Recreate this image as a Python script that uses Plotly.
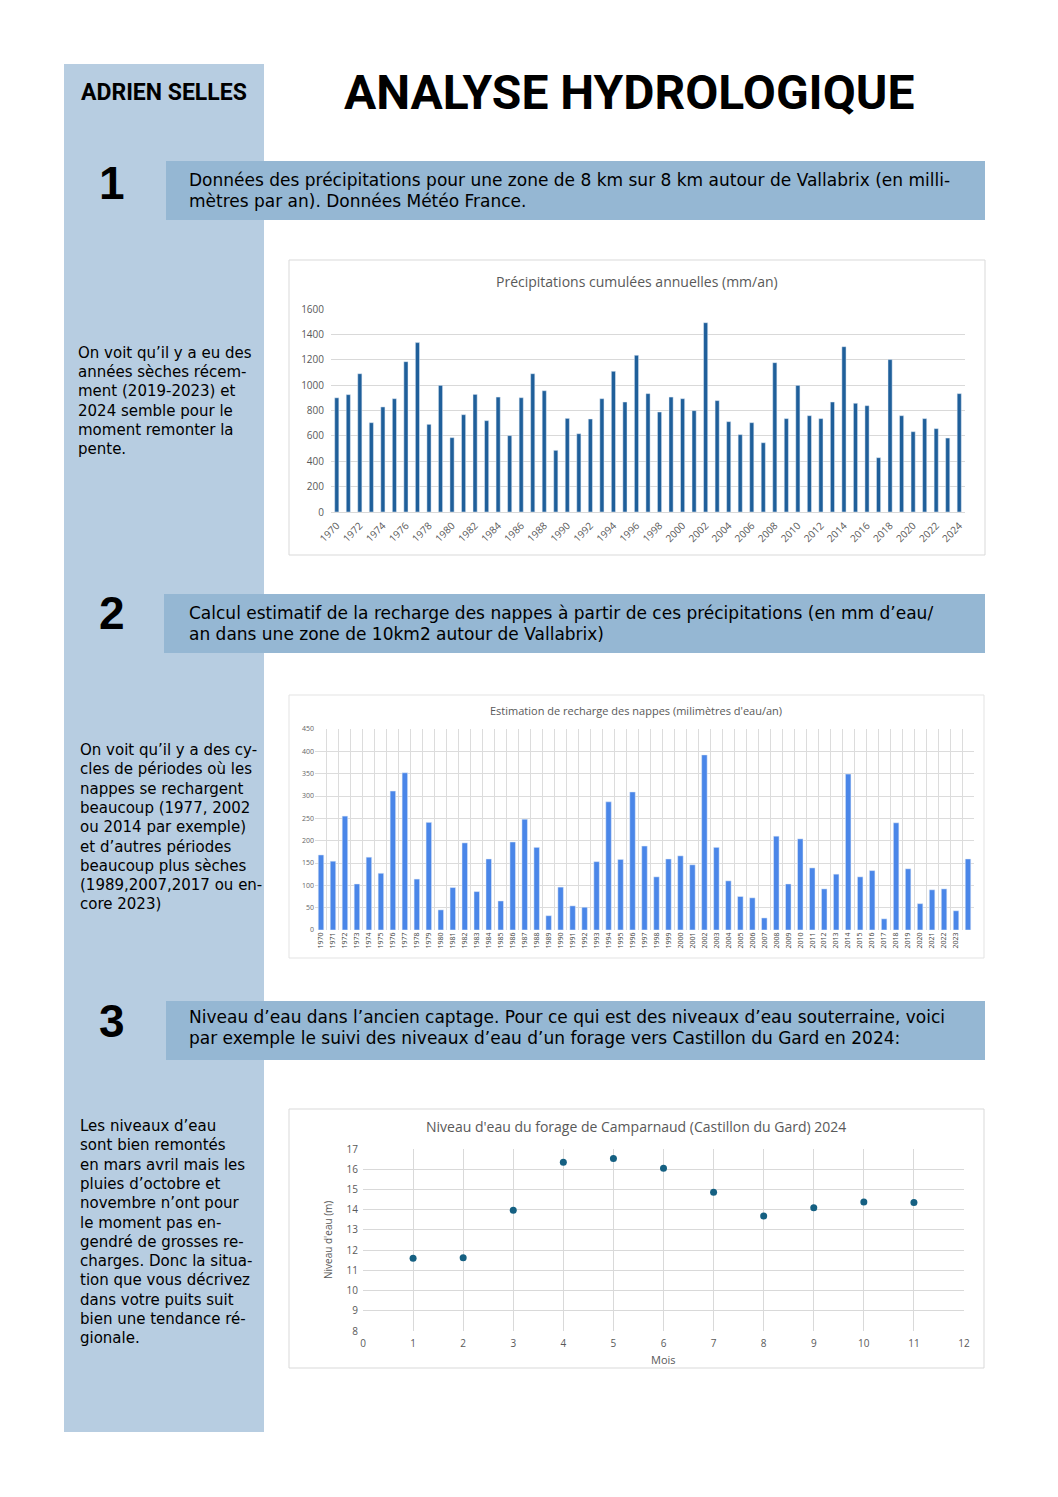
import plotly.graph_objects as go

W, H = 1058, 1497

# ---------------- data ----------------
years = list(range(1970, 2025))
precip = [900, 925, 1090, 704, 828, 893, 1185, 1335, 691, 998,
          586, 767, 927, 720, 906, 602, 901, 1090, 956, 486,
          738, 617, 733, 893, 1109, 867, 1235, 933, 788, 906,
          893, 799, 1492, 878, 712, 610, 704, 546, 1177, 736,
          998, 759, 736, 867, 1303, 857, 838, 428, 1201, 759,
          633, 736, 657, 583, 933]
recharge = [168, 154, 255, 103, 163, 127, 311, 352, 114, 241,
            45, 95, 195, 86, 159, 65, 197, 248, 185, 32,
            96, 54, 51, 153, 287, 158, 309, 188, 119, 159,
            166, 146, 392, 185, 110, 75, 72, 27, 210, 103,
            204, 139, 92, 125, 349, 119, 133, 25, 240, 137,
            59, 90, 92, 43, 159]
months = [1, 2, 3, 4, 5, 6, 7, 8, 9, 10, 11]
niveau = [11.6, 11.62, 13.97, 16.35, 16.53, 16.05, 14.86, 13.69, 14.1, 14.38, 14.36]

precip_ticks = list(range(1970, 2025, 2))
recharge_ticks = list(range(1970, 2024))

# ---------------- helpers ----------------
def xp(px):
    return px / W

def yp(py):
    return 1 - py / H

fig = go.Figure()

fig.add_trace(go.Bar(x=years, y=precip, marker_color="#1f5f9a", width=0.36,
                     xaxis="x", yaxis="y", showlegend=False))
fig.add_trace(go.Bar(x=years, y=recharge, marker_color="#4a86e8", width=0.46,
                     xaxis="x2", yaxis="y2", showlegend=False))
fig.add_trace(go.Scatter(x=months, y=niveau, mode="markers",
                         marker=dict(color="#156082", size=7),
                         xaxis="x3", yaxis="y3", showlegend=False))

grid = "#d9d9d9"
tickc = "#595959"
cf = "Open Sans"

shapes = []
def rect(x0, y0, x1, y1, fill, line=None, lw=0):
    shapes.append(dict(type="rect", xref="paper", yref="paper",
                       x0=xp(x0), x1=xp(x1), y0=yp(y1), y1=yp(y0),
                       fillcolor=fill, line=dict(color=line or fill, width=lw),
                       layer="below"))

# sidebar
rect(64, 64, 264, 1432, "#b7cde1")
# header boxes
rect(166, 161, 985, 220, "#95b7d3")
rect(164, 594, 985, 653, "#95b7d3")
rect(166, 1001, 985, 1060, "#95b7d3")
# chart frames
rect(289, 260, 985, 555, "white", "#d9d9d9", 1)
rect(289, 695, 984, 958, "white", "#e3e3e3", 1)
rect(289, 1109, 984, 1368, "white", "#d9d9d9", 1)

ann = []
def text(x, y, s, size, family="DejaVu Sans", color="black", xanchor="left", bold=False, angle=0):
    if bold:
        s = "<b>" + s + "</b>"
    ann.append(dict(x=xp(x), y=yp(y), xref="paper", yref="paper", text=s,
                    showarrow=False, xanchor=xanchor, yanchor="middle",
                    textangle=angle,
                    font=dict(size=size, family=family, color=color)))

# titles
text(629, 92, "ANALYSE HYDROLOGIQUE", 48, "Roboto", xanchor="center", bold=True)
text(164, 93, "ADRIEN SELLES", 23, "Roboto", xanchor="center", bold=True)
for num, y in (("1", 183), ("2", 613), ("3", 1021)):
    text(112, y, num, 46, "Liberation Sans", xanchor="center", bold=True)

# header box text
bf = 17
text(187, 180, "Données des précipitations pour une zone de 8 km sur 8 km autour de Vallabrix (en milli-", bf)
text(187, 201, "mètres par an). Données Météo France.", bf)
text(187, 613, "Calcul estimatif de la recharge des nappes à partir de ces précipitations (en mm d’eau/", bf)
text(187, 634, "an dans une zone de 10km2 autour de Vallabrix)", bf)
text(187, 1017, "Niveau d’eau dans l’ancien captage. Pour ce qui est des niveaux d’eau souterraine, voici", bf)
text(187, 1038, "par exemple le suivi des niveaux d’eau d’un forage vers Castillon du Gard en 2024:", bf)

# sidebar comments
sf = 15
side1 = ["On voit qu’il y a eu des", "années sèches récem-", "ment (2019-2023) et",
         "2024 semble pour le", "moment remonter la", "pente."]
for i, s in enumerate(side1):
    text(76, 353 + i * 19.2, s, sf)
side2 = ["On voit qu’il y a des cy-", "cles de périodes où les", "nappes se rechargent",
         "beaucoup (1977, 2002", "ou 2014 par exemple)", "et d’autres périodes",
         "beaucoup plus sèches", "(1989,2007,2017 ou en-", "core 2023)"]
for i, s in enumerate(side2):
    text(78, 750 + i * 19.3, s, sf)
side3 = ["Les niveaux d’eau", "sont bien remontés", "en mars avril mais les",
         "pluies d’octobre et", "novembre n’ont pour", "le moment pas en-",
         "gendré de grosses re-", "charges. Donc la situa-", "tion que vous décrivez",
         "dans votre puits suit", "bien une tendance ré-", "gionale."]
for i, s in enumerate(side3):
    text(78, 1126 + i * 19.3, s, sf)

# chart titles
text(637, 281, "Précipitations cumulées annuelles (mm/an)", 14, cf, tickc, "center")
text(636, 710, "Estimation de recharge des nappes (milimètres d'eau/an)", 11, cf, tickc, "center")
text(636, 1126, "Niveau d'eau du forage de Camparnaud (Castillon du Gard) 2024", 14, cf, tickc, "center")
text(663, 1359, "Mois", 11, cf, tickc, "center")
text(328, 1240, "Niveau d'eau (m)", 10, cf, tickc, "center", angle=-90)

fig.update_layout(
    width=W, height=H, margin=dict(l=0, r=0, t=0, b=0, autoexpand=False),
    paper_bgcolor="white", plot_bgcolor="rgba(0,0,0,0)",
    shapes=shapes, annotations=ann,
    xaxis=dict(domain=[xp(331), xp(965)], anchor="y", range=[1969.5, 2024.5], automargin=False,
               tickmode="array", tickvals=precip_ticks, ticktext=[str(v) for v in precip_ticks],
               tickangle=-45, tickfont=dict(size=10, color=tickc, family=cf),
               showgrid=False, showline=True, linecolor=grid, zeroline=False, ticks="",
               ticklabelstandoff=3),
    yaxis=dict(domain=[yp(512), yp(309)], anchor="x", range=[0, 1600], dtick=200, automargin=False,
               tickfont=dict(size=10, color=tickc, family=cf), gridcolor=grid,
               showline=False, zeroline=False, ticks="", ticklabelstandoff=6),
    xaxis2=dict(domain=[xp(315), xp(974)], anchor="y2", range=[1969.5, 2024.5], automargin=False,
                tickmode="array", tickvals=recharge_ticks, ticktext=[str(v) for v in recharge_ticks],
                tickangle=-90, tickfont=dict(size=7, color="#444", family=cf),
                showgrid=False, zeroline=False, ticks="",
                minor=dict(tick0=1969.5, dtick=1, showgrid=True, gridcolor="#dcdcdc", ticks="")),
    yaxis2=dict(domain=[yp(930), yp(729)], anchor="x2", range=[0, 450], dtick=50, automargin=False,
                tickfont=dict(size=7, color="#666", family=cf), gridcolor="#dcdcdc",
                showline=False, zeroline=False, ticks=""),
    xaxis3=dict(domain=[xp(363), xp(964)], anchor="y3", range=[0, 12], dtick=1, automargin=False,
                tickfont=dict(size=10, color=tickc, family=cf), gridcolor=grid,
                showline=False, zeroline=False, ticks="", ticklabelstandoff=5),
    yaxis3=dict(domain=[yp(1331), yp(1149)], anchor="x3", range=[8, 17], dtick=1, automargin=False,
                tickfont=dict(size=10, color=tickc, family=cf), gridcolor=grid,
                showline=False, zeroline=False, ticks="", ticklabelstandoff=4),
)

fig.write_html("out.html", config={"displayModeBar": False},
               post_script="document.body.style.margin='0';")
